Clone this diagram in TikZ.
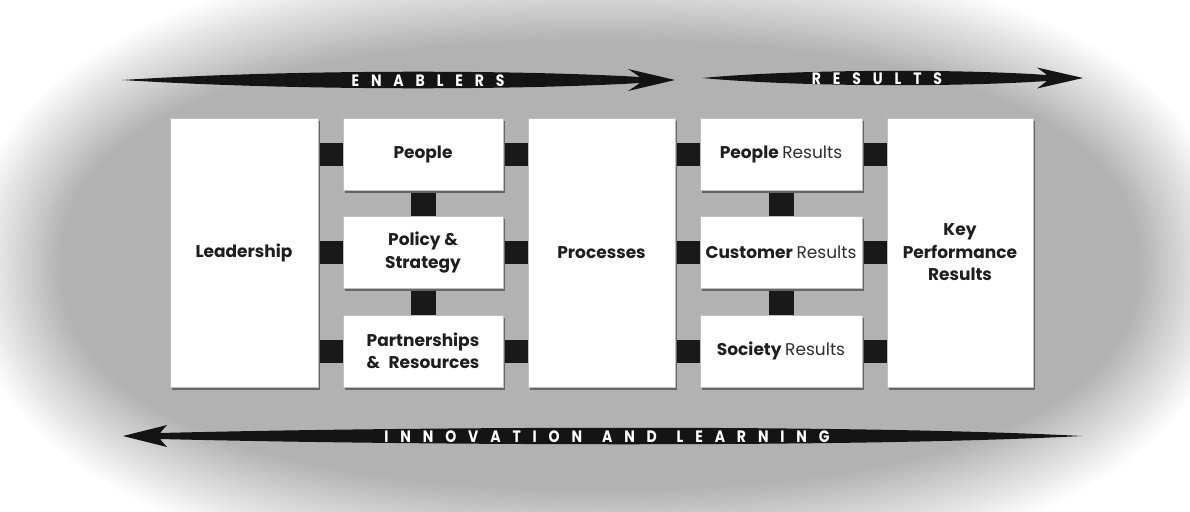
\documentclass[tikz,border=0pt]{standalone}
\usepackage{fontspec}
\setmainfont{Poppins}
\newfontfamily\arrfont[FakeStretch=0.85, LetterSpace=72]{Poppins}
\usetikzlibrary{shadows}
\definecolor{bgc}{RGB}{178,178,178}
\definecolor{ink}{RGB}{30,30,30}
\definecolor{inklight}{RGB}{45,45,45}
\pgfdeclarelayer{back}
\pgfdeclarelayer{links}
\pgfsetlayers{back,links,main}
\begin{document}
\begin{tikzpicture}[x=1pt,y=-1pt,
  box/.style={draw=black!25, line width=0.6pt, fill=white, inner sep=2pt, align=center, text=ink,
    font=\fontsize{17}{22.5}\selectfont\bfseries,
    drop shadow={shadow xshift=2pt, shadow yshift=-2.5pt, fill=black!60, opacity=1}},
  tall/.style={box, minimum width=148pt, minimum height=269pt},
  small/.style={box, minimum width=160pt, minimum height=72pt},
  link/.style={draw=black!90, line width=23pt},
  vlink/.style={draw=black!90, line width=25pt},
  band/.style={fill=black!92},
  bandtext/.style={text=white, font=\arrfont\fontsize{16.5}{20}\selectfont\bfseries, inner sep=0pt, anchor=base}
]
\useasboundingbox (0,0) rectangle (1190,511);
\begin{pgfonlayer}{back}
  \fill[white] (0,0) rectangle (1190,511);
  \foreach \k [evaluate=\k as \d using 45-3.75*\k, evaluate=\k as \p using int(4*(\k+1))] in {0,...,24}
    \fill[bgc!\p!white] plot[domain=0:360, samples=145, variable=\t]
      ({600+(585+\d)*cos(\t)*pow(abs(cos(\t))+0.0001,-0.13)},
       {265+(270+\d)*sin(\t)*pow(abs(sin(\t))+0.0001,-0.13)}) -- cycle;
\end{pgfonlayer}

% boxes
\node[tall] (lead) at (244,252.5) {Leadership};
\node[small] (people) at (423,154) {People};
\node[small] (policy) at (423,252.5) {Policy \&\\Strategy};
\node[small] (partners) at (423,351) {Partnerships\\\&\enspace Resources};
\node[tall, minimum width=147pt] (proc) at (601.5,252.5) {Processes};
\node[small, minimum width=162pt] (pres) at (781,154) {People {\mdseries\color{inklight}Results}};
\node[small, minimum width=162pt] (cres) at (781,252.5) {Customer {\mdseries\color{inklight}Results}};
\node[small, minimum width=162pt] (sres) at (781,351) {Society {\mdseries\color{inklight}Results}};
\node[tall, minimum width=146pt] (kpr) at (960,252.5) {Key\\Performance\\Results};

% connectors
\begin{pgfonlayer}{links}
  \draw[link] (lead.east |- people) -- (people.west);
  \draw[link] (lead.east |- policy) -- (policy.west);
  \draw[link] (lead.east |- partners) -- (partners.west);
  \draw[link] (people.east) -- (proc.west |- people);
  \draw[link] (policy.east) -- (proc.west |- policy);
  \draw[link] (partners.east) -- (proc.west |- partners);
  \draw[link] (proc.east |- pres) -- (pres.west);
  \draw[link] (proc.east |- cres) -- (cres.west);
  \draw[link] (proc.east |- sres) -- (sres.west);
  \draw[link] (pres.east) -- (kpr.west |- pres);
  \draw[link] (cres.east) -- (kpr.west |- cres);
  \draw[link] (sres.east) -- (kpr.west |- sres);
  \draw[vlink] (people.south) -- (policy.north);
  \draw[vlink] (policy.south) -- (partners.north);
  \draw[vlink] (pres.south) -- (cres.north);
  \draw[vlink] (cres.south) -- (sres.north);
\end{pgfonlayer}

% arrows
\fill[band] (122,80) .. controls (300,69) and (520,70) .. (640,77) -- (628,69) -- (675,80)
  -- (628,91) -- (640,83) .. controls (520,90) and (300,91) .. (122,80) -- cycle;
\fill[band] (702,78) .. controls (800,69) and (960,69) .. (1047,75) -- (1037,67.5) -- (1083,78)
  -- (1037,88.5) -- (1047,81) .. controls (960,87) and (800,87) .. (702,78) -- cycle;
\fill[band] (1082,436) .. controls (850,424) and (400,427) .. (160,433) -- (167,425) -- (123,436)
  -- (167,447) -- (160,439) .. controls (400,445) and (850,448) .. (1082,436) -- cycle;

\node[bandtext] (tenab) at (428,86) {ENABLERS};
\node[bandtext] (tres) at (877,84) {RESULTS};
\node[bandtext] (tinn) at (607,442) {INNOVATION\hspace{5pt} AND\hspace{5pt} LEARNING};
\end{tikzpicture}
\end{document}
